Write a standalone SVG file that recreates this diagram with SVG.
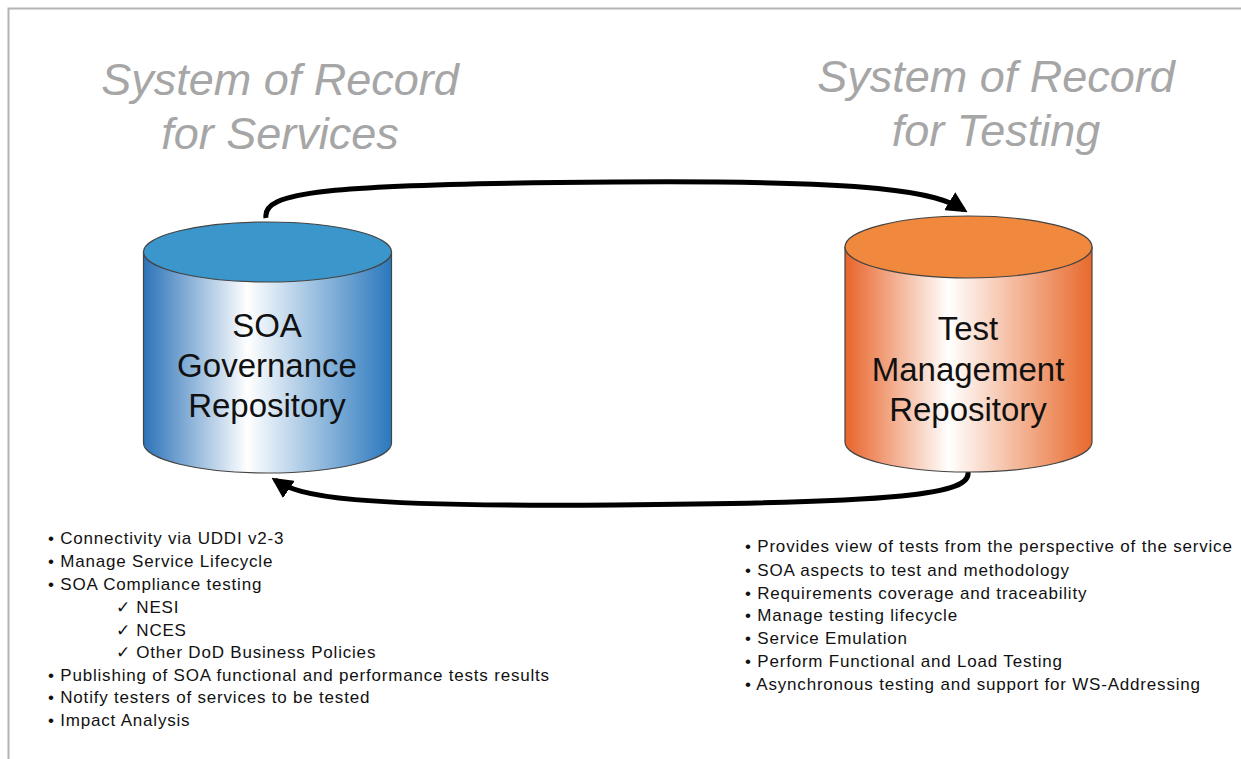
<svg xmlns="http://www.w3.org/2000/svg" width="1241" height="759" viewBox="0 0 1241 759">
<defs>
<linearGradient id="gBlue" x1="0" y1="0" x2="1" y2="0">
<stop offset="0" stop-color="#2c73b8"/>
<stop offset="0.42" stop-color="#ffffff"/>
<stop offset="1" stop-color="#2a78bd"/>
</linearGradient>
<linearGradient id="gOrange" x1="0" y1="0" x2="1" y2="0">
<stop offset="0" stop-color="#e8642a"/>
<stop offset="0.42" stop-color="#ffffff"/>
<stop offset="1" stop-color="#e8692c"/>
</linearGradient>
<marker id="ah" viewBox="0 0 10 10" refX="8" refY="5" markerWidth="4.2" markerHeight="4.2" orient="auto" markerUnits="strokeWidth">
<path d="M0,0 L10,5 L0,10 Z" fill="#000"/>
</marker>
<style>
.title{font-family:"Liberation Sans",Arial,sans-serif;font-style:italic;font-size:45px;fill:#a6a6a6;text-anchor:middle}
.cyl{font-family:"Liberation Sans",Arial,sans-serif;font-size:33px;fill:#111;text-anchor:middle}
.li{font-family:"Liberation Sans",Arial,sans-serif;font-size:17px;letter-spacing:0.8px;fill:#111}
.edge{fill:none;stroke:#000;stroke-width:5;marker-end:url(#ah)}
.outl{stroke:#444;stroke-width:1.2}
</style>
</defs>
<rect width="1241" height="759" fill="#fff"/>
<path d="M8.5,759 L8.5,8.5 L1241,8.5" fill="none" stroke="#b4b4b4" stroke-width="2"/>

<g id="title-services">
<text class="title" x="280" y="95">System of Record</text>
<text class="title" x="280" y="149">for Services</text>
</g>
<g id="title-testing">
<text class="title" x="996" y="92">System of Record</text>
<text class="title" x="996" y="146">for Testing</text>
</g>

<g id="connectors">
<path class="edge" d="M266,218 C262,192 320,184 615,182 C880,180 935,192 964,210"/>
<path class="edge" d="M968,472 C971,494 905,503 615,505 C350,507 300,497 275,480"/>
</g>

<g id="soa-repo">
<path class="outl" d="M143.5,252 L143.5,443 A124,30 0 0 0 391.5,443 L391.5,252 Z" fill="url(#gBlue)"/>
<ellipse class="outl" cx="267.5" cy="252" rx="124" ry="30" fill="#3a96cb"/>
<text class="cyl" x="267" y="337">SOA</text>
<text class="cyl" x="267" y="377">Governance</text>
<text class="cyl" x="267" y="417">Repository</text>
</g>

<g id="test-repo">
<path class="outl" d="M845,247 L845,442 A123.5,30 0 0 0 1092,442 L1092,247 Z" fill="url(#gOrange)"/>
<ellipse class="outl" cx="968.5" cy="247" rx="123.5" ry="31" fill="#f0883d"/>
<text class="cyl" x="968" y="340">Test</text>
<text class="cyl" x="968" y="381">Management</text>
<text class="cyl" x="968" y="421">Repository</text>
</g>

<g id="services-list">
<text class="li" x="48" y="544">• Connectivity via UDDI v2-3</text>
<text class="li" x="48" y="567">• Manage Service Lifecycle</text>
<text class="li" x="48" y="590">• SOA Compliance testing</text>
<text class="li" x="116" y="613">✓ NESI</text>
<text class="li" x="116" y="636">✓ NCES</text>
<text class="li" x="116" y="658">✓ Other DoD Business Policies</text>
<text class="li" x="48" y="681">• Publishing of SOA functional and performance tests results</text>
<text class="li" x="48" y="703">• Notify testers of services to be tested</text>
<text class="li" x="48" y="726">• Impact Analysis</text>
</g>

<g id="testing-list">
<text class="li" x="745" y="552">• Provides view of tests from the perspective of the service</text>
<text class="li" x="745" y="576">• SOA aspects to test and methodology</text>
<text class="li" x="745" y="599">• Requirements coverage and traceability</text>
<text class="li" x="745" y="621">• Manage testing lifecycle</text>
<text class="li" x="745" y="644">• Service Emulation</text>
<text class="li" x="745" y="667">• Perform Functional and Load Testing</text>
<text class="li" x="745" y="690">• Asynchronous testing and support for WS-Addressing</text>
</g>
</svg>
